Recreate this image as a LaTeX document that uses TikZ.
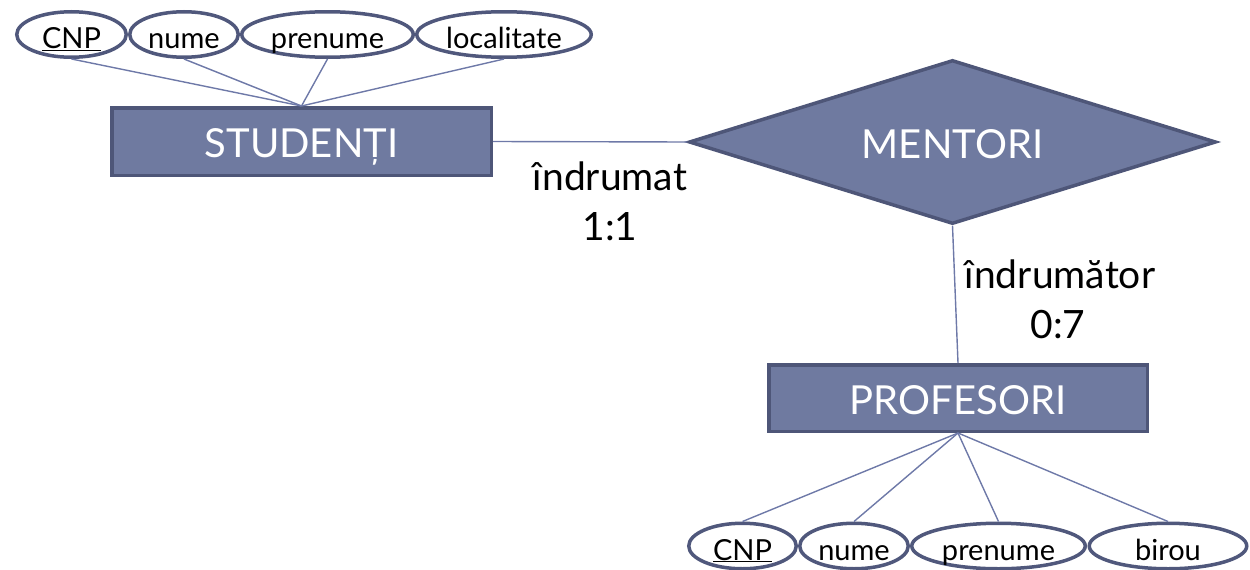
\documentclass[tikz,border=0pt]{standalone}
\usepackage{fontspec}
\setmainfont{Lato}
\usetikzlibrary{shapes.geometric}
\definecolor{entfill}{RGB}{111,122,160}
\definecolor{entborder}{RGB}{78,86,120}
\definecolor{linkcol}{RGB}{110,121,168}
\definecolor{attrborder}{RGB}{80,88,124}
\begin{document}
\begin{tikzpicture}[x=1pt,y=-1pt,
  entity/.style={rectangle, fill=entfill, draw=entborder, line width=3.5pt,
    inner sep=0pt, text=white, font=\fontsize{40}{43}\selectfont,
    text height=32pt, text depth=0pt},
  relation/.style={diamond, fill=entfill, draw=entborder, line width=3.5pt,
    inner sep=0pt, aspect=3, text=white, font=\fontsize{40}{43}\selectfont,
    text height=32pt, text depth=0pt,
    minimum width=527pt, minimum height=164pt},
  attr/.style={ellipse, fill=white, draw=attrborder, line width=3.5pt,
    inner sep=0pt, font=\fontsize{29}{32}\selectfont,
    text height=28pt, text depth=0pt, minimum height=45.5pt},
  link/.style={draw=linkcol, line width=1.4pt},
  role/.style={anchor=base, inner sep=0pt, font=\fontsize{39}{42}\selectfont}]
\useasboundingbox (0,0) rectangle (1250,570);

% entities and relationship
\node[entity, minimum width=379.5pt, minimum height=67.5pt] (stud) at (301.5,141.5) {STUDENȚI};
\node[entity, minimum width=378.5pt, minimum height=66.5pt] (prof) at (958,398) {PROFESORI};
\node[relation] (ment) at (952.5,142) {MENTORI};

% relationship links and roles
\draw[link] (stud.east) -- (ment.west);
\draw[link] (ment.south) -- (prof.north);
\node[role] (r1) at (610,190) {îndrumat};
\node[role] (c1) at (610,240) {1:1};
\node[role] (r2) at (1060,288) {îndrumător};
\node[role] (c2) at (1058,338) {0:7};

% attributes of STUDENȚI
\node[attr, minimum width=109.5pt] (s1) at (71.5,34.5) {\underline{CNP}};
\node[attr, minimum width=108.5pt] (s2) at (184,34.5) {nume};
\node[attr, minimum width=171.5pt] (s3) at (327.5,34.5) {prenume};
\node[attr, minimum width=174.5pt] (s4) at (504,34.5) {localitate};
\foreach \a in {s1,s2,s3,s4} \draw[link] (\a.south) -- (stud.north);

% attributes of PROFESORI
\node[attr, minimum width=107.5pt] (p1) at (742.5,546) {\underline{CNP}};
\node[attr, minimum width=108.5pt] (p2) at (854,546) {nume};
\node[attr, minimum width=173.5pt] (p3) at (998.5,546) {prenume};
\node[attr, minimum width=157.5pt] (p4) at (1168,546) {birou};
\foreach \a in {p1,p2,p3,p4} \draw[link] (\a.north) -- (prof.south);
\end{tikzpicture}
\end{document}
